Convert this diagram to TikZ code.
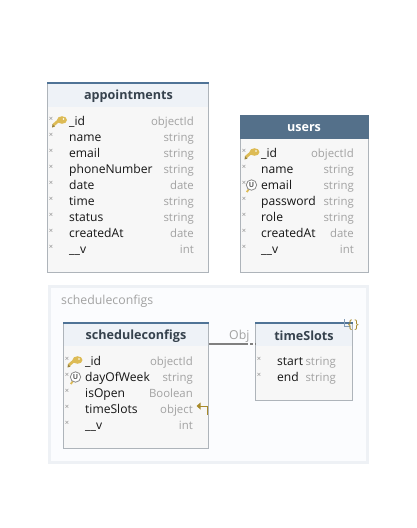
\documentclass[tikz,border=0pt]{standalone}
\usepackage{fontspec}
\setmainfont{Open Sans}
\definecolor{hdr}{HTML}{EEF2F7}
\definecolor{bodyc}{HTML}{F7F7F7}
\definecolor{edge}{HTML}{AEB4BA}
\definecolor{topb}{HTML}{4F7396}
\definecolor{dark}{HTML}{54708A}
\definecolor{titlec}{HTML}{36424D}
\definecolor{typec}{HTML}{A2A2A2}
\definecolor{keyc}{HTML}{DDBB55}
\definecolor{markc}{HTML}{8A8A8A}
\definecolor{goldc}{HTML}{A88A2A}
\definecolor{grpfill}{HTML}{FBFCFE}
\definecolor{grpedge}{HTML}{EEF1F5}
\tikzset{
  x=1pt,y=-1pt,
  tbox/.style={draw=edge,fill=bodyc,line width=1pt},
  thead/.style={fill=hdr},
  topline/.style={draw=topb,line width=1.5pt},
  ttitle/.style={font=\fontsize{12.6}{14}\selectfont\bfseries,text=titlec,inner sep=0pt},
  fname/.style={font=\fontsize{12.1}{14}\selectfont,text=black!92,anchor=base west,inner sep=0pt},
  ftype/.style={font=\fontsize{11.4}{13}\selectfont,text=typec,anchor=base east,inner sep=0pt},
  fmark/.style={font=\fontsize{7.5}{8}\selectfont,text=markc,inner sep=0pt},
  plainlabel/.style={anchor=base west,inner sep=0pt,font=\fontsize{12.3}{14}\selectfont,text=typec},
  pics/keyicon/.style={code={
    \fill[keyc] (0,0) -- (7,-6) -- (9,-4) -- (2,2) -- cycle;
    \fill[keyc] (9.5,-4) ellipse[x radius=5,y radius=3.8];
    \fill[keyc!70!black] (0,0) -- (-.5,3.5) -- (2.5,2.5) -- (2,2) -- cycle;
    \fill[white] (11,-5) circle[radius=.8];
  }},
  pics/uicon/.style={code={
    \fill[keyc] (-5.5,6.5) -- (-2.5,2.5) -- (-1,3.5) -- (-4,7.5) -- cycle;
    \draw[markc,fill=white,line width=.8pt] (0,0) circle[radius=5.2];
    \node[inner sep=0pt,font=\fontsize{7}{8}\selectfont\bfseries,text=black!65] {U};
  }},
}
\newcommand{\rowf}[7]{% id, y, mark x, name x, name, type right x, type
  \node[fmark] (#1m) at (#3,#2-6) {×};
  \node[fname] (#1n) at (#4,#2) {#5};
  \node[ftype] (#1t) at (#6,#2) {#7};
}
\begin{document}
\begin{tikzpicture}
\useasboundingbox (0,0) rectangle (416,528);
\fill[white] (0,0) rectangle (416,528);
% group
\draw[draw=grpedge,fill=grpfill,line width=3pt] (49,286.5) rectangle (367.5,462.5);
\node[plainlabel] (grp) at (61,304) {scheduleconfigs};
% appointments
\draw[tbox] (47.5,83) rectangle (208,272);
\fill[thead] (48,84) rectangle (207.5,107);
\draw[topline] (47,83) -- (208.5,83);
\node[ttitle] (appt) at (128.5,96) {appointments};
\rowf{a1}{125}{51}{69}{\_id}{194}{objectId}
\rowf{a2}{141}{51}{69}{name}{194}{string}
\rowf{a3}{157}{51}{69}{email}{194}{string}
\rowf{a4}{173}{51}{69}{phoneNumber}{194}{string}
\rowf{a5}{189}{51}{69}{date}{194}{date}
\rowf{a6}{205}{51}{69}{time}{194}{string}
\rowf{a7}{221}{51}{69}{status}{194}{string}
\rowf{a8}{237}{51}{69}{createdAt}{194}{date}
\rowf{a9}{253}{51}{69}{\_\_v}{194}{int}
\pic at (52.5,124) {keyicon};
% users
\draw[tbox] (240,115) rectangle (368,272);
\fill[dark] (239.5,115) rectangle (368.5,139);
\node[ttitle,text=white] (usr) at (304,128) {users};
\rowf{u1}{157}{244}{261}{\_id}{354}{objectId}
\rowf{u2}{173}{244}{261}{name}{354}{string}
\rowf{u3}{189}{244}{261}{email}{354}{string}
\rowf{u4}{205}{244}{261}{password}{354}{string}
\rowf{u5}{221}{244}{261}{role}{354}{string}
\rowf{u6}{237}{244}{261}{createdAt}{354}{date}
\rowf{u7}{253}{244}{261}{\_\_v}{354}{int}
\pic at (245,156) {keyicon};
\pic at (251.5,185) {uicon};
% scheduleconfigs
\draw[tbox] (63.5,323) rectangle (208,448);
\fill[thead] (64,324) rectangle (207.5,346);
\draw[topline] (63,323) -- (208.5,323);
\node[ttitle] (sc) at (136,336) {scheduleconfigs};
\rowf{s1}{365}{67}{85}{\_id}{193}{objectId}
\rowf{s2}{381}{67}{85}{dayOfWeek}{193}{string}
\rowf{s3}{397}{67}{85}{isOpen}{193}{Boolean}
\rowf{s4}{413}{67}{85}{timeSlots}{193}{object}
\rowf{s5}{429}{67}{85}{\_\_v}{193}{int}
\pic at (68,364) {keyicon};
\pic at (75.5,377) {uicon};
\draw[goldc,line width=.9pt] (207,415) -- (207,406) -- (199,406);
\fill[goldc] (196.5,406) -- (200.5,402.5) -- (200.5,409.5) -- cycle;
% timeSlots
\draw[tbox] (255.5,323) rectangle (352,400);
\fill[thead] (256,324) rectangle (351.5,346);
\draw[topline] (255,323) -- (352.5,323);
\node[ttitle] (ts) at (304,336) {timeSlots};
\rowf{t1}{365}{259}{277}{start}{336}{string}
\rowf{t2}{381}{259}{277}{end}{336}{string}
\draw[topb!70,line width=.8pt] (344,319) -- (344,326) -- (350,326);
\node[inner sep=0pt,font=\fontsize{12}{14}\selectfont,text=goldc] (br) at (353.5,325.5) {\{\,\}};
% connector
\coordinate (c1) at (208.5,344);
\coordinate (c2) at (245,344);
\coordinate (c3) at (256,344);
\draw[black!50,line width=1.3pt] (c1) -- (c2);
\draw[black!50,line width=1.3pt,dash pattern=on 3pt off 2pt] (c2) -- (c3);
\node[plainlabel] (obj) at (229,339) {Obj};
\end{tikzpicture}
\end{document}
